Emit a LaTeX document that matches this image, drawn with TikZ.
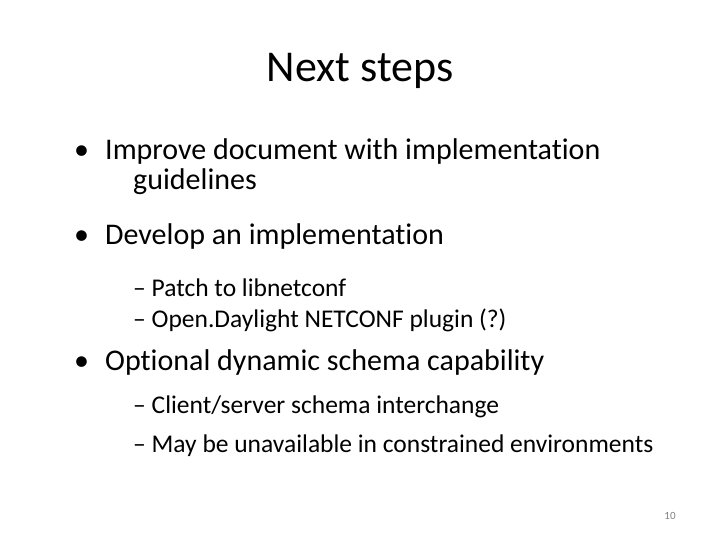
\documentclass[tikz,border=0pt]{standalone}
\usepackage{fontspec}
\setmainfont[Ligatures=NoCommon]{Carlito}
\begin{document}
\begin{tikzpicture}[x=1pt,y=-1pt,
  lvone/.style={anchor=base west,inner sep=0pt,font=\fontsize{30}{32}\selectfont},
  lvtwo/.style={anchor=base west,inner sep=0pt,font=\fontsize{25.5}{27}\selectfont}]
\useasboundingbox[fill=white] (0,0) rectangle (720,540);
\node[anchor=base,inner sep=0pt,font=\fontsize{44}{48}\selectfont] (title) at (360,82) {Next steps};
\node[lvone] (b1) at (74,160) {•};
\node[lvone] (t1) at (105,160) {Improve document with implementation};
\node[lvone] (t1b) at (133,190) {guidelines};
\node[lvone] (b2) at (74,244) {•};
\node[lvone] (t2) at (105,244) {Develop an implementation};
\node[lvtwo] (s1) at (133,296) {– Patch to libnetconf};
\node[lvtwo] (s2) at (133,327) {– Open.Daylight NETCONF plugin (?)};
\node[lvone] (b3) at (74,370) {•};
\node[lvone] (t3) at (105,370) {Optional dynamic schema capability};
\node[lvtwo] (s3) at (133,413) {– Client/server schema interchange};
\node[lvtwo] (s4) at (133,452) {– May be unavailable in constrained environments};
\node[anchor=base,inner sep=0pt,font=\fontsize{11}{12}\selectfont,text=gray] (pg) at (670,519) {10};
\end{tikzpicture}
\end{document}
